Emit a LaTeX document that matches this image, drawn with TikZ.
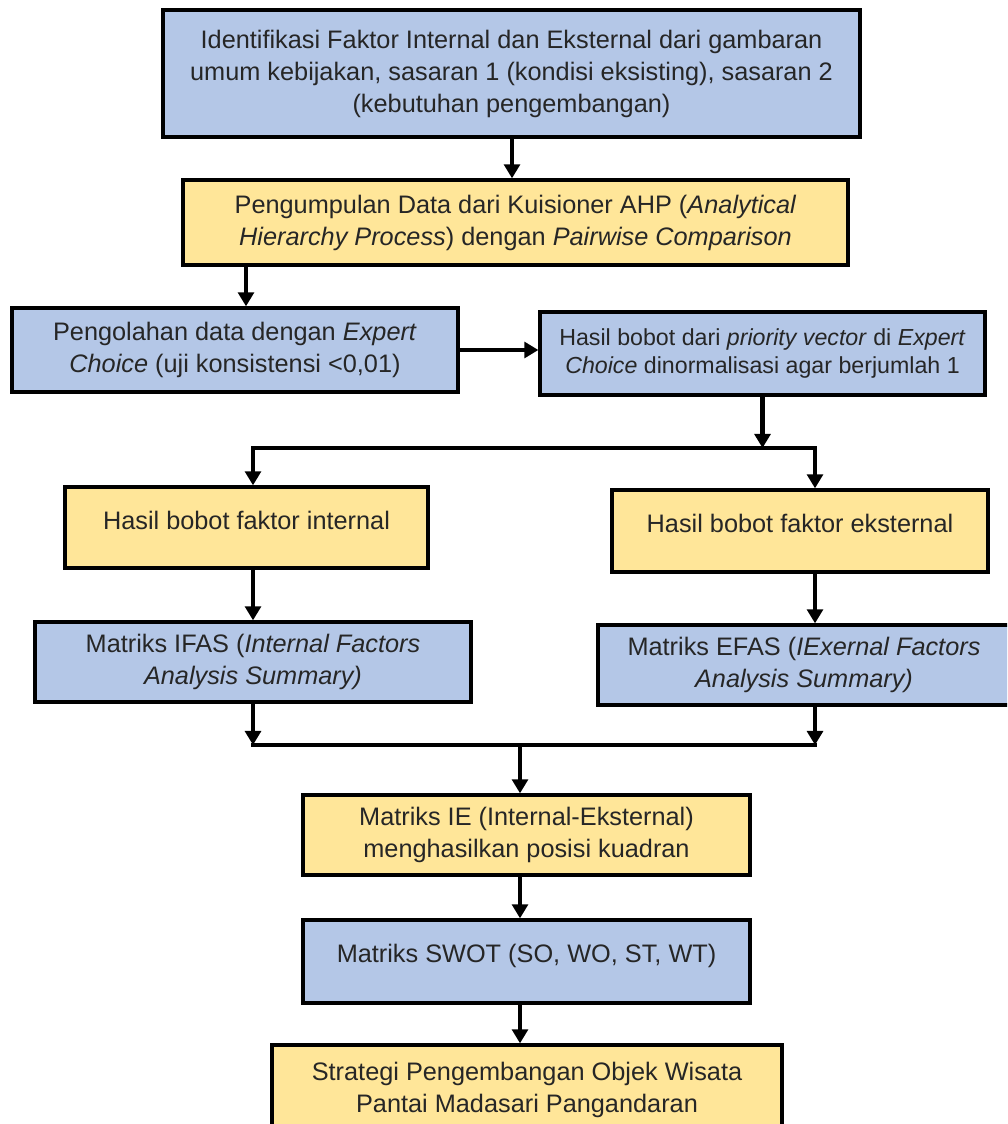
\documentclass[tikz,border=0pt]{standalone}
\usepackage{fontspec}
\setmainfont{Liberation Sans}
\usetikzlibrary{arrows.meta}
\definecolor{birumuda}{HTML}{B4C7E7}
\definecolor{kuningmuda}{HTML}{FFE699}
\tikzset{
  kotak/.style={draw, line width=1.9pt, align=center, inner sep=0pt, text=black!85,
    font=\fontsize{14.4}{18.2}\selectfont},
  biru/.style={kotak, fill=birumuda},
  kuning/.style={kotak, fill=kuningmuda},
  garis/.style={line width=2.4pt},
  panah/.style={line width=2.4pt, -{Triangle[length=8pt,width=9pt]}}
}
\begin{document}
\begin{tikzpicture}[x=0.02cm,y=-0.02cm]
\useasboundingbox (0,0) rectangle (1007,1124);
\clip (0,0) rectangle (1007,1124);
% kotak-kotak
\node[biru, minimum width=13.94cm, minimum height=2.54cm] (b1) at (511.5,73.5)
  {Identifikasi Faktor Internal dan Eksternal dari gambaran\\
   umum kebijakan, sasaran 1 (kondisi eksisting), sasaran 2\\
   (kebutuhan pengembangan)};
\node[kuning, minimum width=13.3cm, minimum height=1.7cm] (b2) at (515.5,222.5)
  {Pengumpulan Data dari Kuisioner AHP (\textit{Analytical}\\
   \textit{Hierarchy Process}) dengan \textit{Pairwise Comparison}};
\node[biru, minimum width=8.92cm, minimum height=1.68cm] (b3) at (235,350)
  {Pengolahan data dengan \textit{Expert}\\
   \textit{Choice} (uji konsistensi <0,01)};
\node[biru, minimum width=8.9cm, minimum height=1.66cm, font=\fontsize{13.2}{16.5}\selectfont] (b4) at (762.5,353.5)
  {Hasil bobot dari \textit{priority vector} di \textit{Expert}\\
   \textit{Choice} dinormalisasi agar berjumlah 1};
\node[kuning, minimum width=7.26cm, minimum height=1.62cm, text height=0.36cm, text depth=0.3cm] (b5) at (246.5,527.5)
  {Hasil bobot faktor internal};
\node[kuning, minimum width=7.52cm, minimum height=1.64cm, text height=0.36cm, text depth=0.3cm] (b6) at (800,531)
  {Hasil bobot faktor eksternal};
\node[biru, minimum width=8.72cm, minimum height=1.6cm] (b7) at (253,662)
  {Matriks IFAS (\textit{Internal Factors}\\
   \textit{Analysis Summary)}};
\node[biru, minimum width=8.24cm, minimum height=1.6cm] (b8) at (804,665)
  {Matriks EFAS (\textit{IExernal Factors}\\
   \textit{Analysis Summary)}};
\node[kuning, minimum width=8.94cm, minimum height=1.6cm] (b9) at (526.5,835)
  {Matriks IE (Internal-Eksternal)\\
   menghasilkan posisi kuadran};
\node[biru, minimum width=8.94cm, minimum height=1.66cm, text height=0.36cm, text depth=0.34cm] (b10) at (526.5,961.5)
  {Matriks SWOT (SO, WO, ST, WT)};
\node[kuning, minimum width=10.2cm, minimum height=1.8cm] (b11) at (527,1090)
  {Strategi Pengembangan Objek Wisata\\
   Pantai Madasari Pangandaran};
% titik bantu
\coordinate (t1) at (512,137);
\coordinate (t2) at (246,265);
\coordinate (cabkiri) at (253,448);
\coordinate (cabkanan) at (815,448);
\coordinate (gabkiri) at (253,745);
\coordinate (gabkanan) at (815,745);
\coordinate (tengah) at (520,745);
% panah
\draw[panah] (t1) -- (t1 |- b2.north);
\draw[panah] (t2) -- (t2 |- b3.north);
\draw[panah] (b3.east) -- (b3.east -| b4.west);
\draw[panah] (b4.south) -- (b4.south |- cabkanan);
\draw[garis, line cap=rect] (cabkiri) -- (cabkanan);
\draw[panah] (cabkiri) -- (cabkiri |- b5.north);
\draw[panah] (cabkanan) -- (cabkanan |- b6.north);
\draw[panah] (b5.south -| cabkiri) -- (cabkiri |- b7.north);
\draw[panah] (b6.south -| cabkanan) -- (cabkanan |- b8.north);
\draw[panah] (b7.south -| gabkiri) -- (gabkiri);
\draw[panah] (b8.south -| gabkanan) -- (gabkanan);
\draw[garis, line cap=rect] (gabkiri) -- (gabkanan);
\draw[panah] (tengah) -- (tengah |- b9.north);
\draw[panah] (b9.south -| tengah) -- (tengah |- b10.north);
\draw[panah] (b10.south -| tengah) -- (tengah |- b11.north);
\end{tikzpicture}
\end{document}
